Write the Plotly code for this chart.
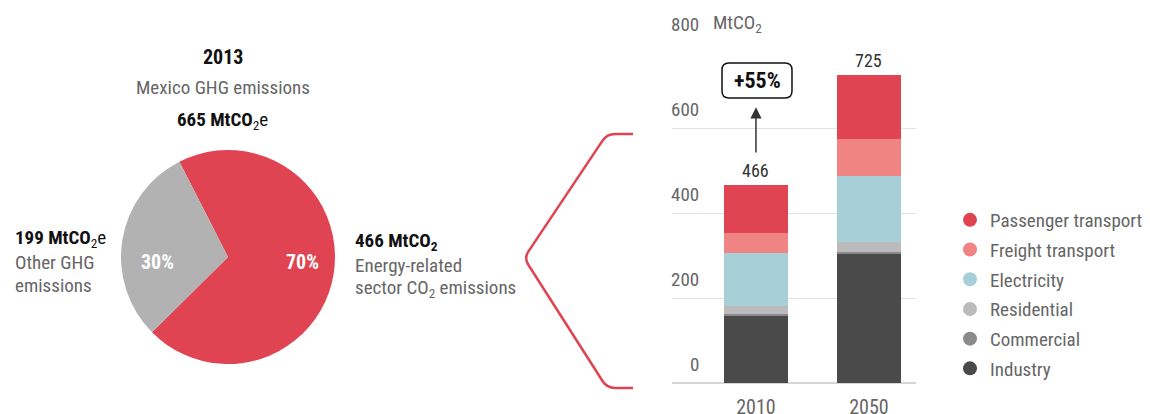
import plotly.graph_objects as go

# pie: Mexico GHG emissions 2013
pie_year = "2013"
pie_labels = ["Energy-related sector CO<sub>2</sub> emissions", "Other GHG emissions"]
pie_values = [466, 199]
pie_colors = ["#E04352", "#B2B2B2"]

# stacked bars: energy-related CO2 by sector
years = ["2010", "2050"]
sectors = ["Industry", "Commercial", "Residential", "Electricity",
           "Freight transport", "Passenger transport"]
industry = [158, 304]
commercial = [5, 4]
residential = [18, 24]
electricity = [125, 155]
freight = [47, 87]
passenger = [113, 151]
sector_colors = ["#4A4A4A", "#8A8A8A", "#BBBBBB", "#A7CFD8", "#F08482", "#E04352"]
y_ticks = [0, 200, 400, 600, 800]
growth_label = "+55%"

FONT = "Roboto Condensed, Liberation Sans Narrow, DejaVu Sans Condensed, sans-serif"
OFF = 8  # page body margin
W, H = 1150 - OFF, 414 - OFF


def px(x):
    return (x - OFF) / W


def py(y):
    return 1 - (y - OFF) / H


def rounded_path(pts, r=8):
    """Polyline in window pixels with softened corners, returned in paper coords."""
    def p(pt):
        return f"{px(pt[0]):.5f},{py(pt[1]):.5f}"

    def toward(s, e, dist):
        dx, dy = e[0] - s[0], e[1] - s[1]
        ln = (dx * dx + dy * dy) ** 0.5
        return (s[0] + dx / ln * dist, s[1] + dy / ln * dist)

    d = "M " + p(pts[0])
    for i in range(1, len(pts) - 1):
        a, b, c = pts[i - 1], pts[i], pts[i + 1]
        d += " L " + p(toward(b, a, r)) + " Q " + p(b) + " " + p(toward(b, c, r))
    d += " L " + p(pts[-1])
    return d


series = [industry, commercial, residential, electricity, freight, passenger]
totals = [sum(v) for v in zip(*series)]
total_pie = sum(pie_values)

fig = go.Figure()

fig.add_trace(go.Pie(
    labels=pie_labels,
    values=pie_values,
    marker=dict(colors=pie_colors, line=dict(width=0)),
    sort=False,
    direction="clockwise",
    rotation=-27,
    textinfo="none",
    domain=dict(x=[px(121), px(335)], y=[py(364), py(150)]),
    showlegend=False,
    hoverinfo="label+value",
))

for name, vals, color in zip(sectors, series, sector_colors):
    fig.add_trace(go.Bar(
        x=years, y=vals, name=name, marker=dict(color=color, line=dict(width=0)),
        width=0.566, showlegend=False,
    ))

# legend entries with round markers, top item first
for name, color in zip(reversed(sectors), reversed(sector_colors)):
    fig.add_trace(go.Scatter(
        x=[None], y=[None], mode="markers", name=name,
        marker=dict(color=color, size=14, symbol="circle"),
        legendgroup=name,
    ))

ann = []


def text(x, y, s, size=19, color="#666666", xanchor="center"):
    ann.append(dict(x=px(x), y=py(y), xref="paper", yref="paper", text=s, showarrow=False,
                    xanchor=xanchor, yanchor="middle",
                    font=dict(family=FONT, size=size, color=color)))


text(223, 57, f"<b>{pie_year}</b>", size=20, color="#111111")
text(223, 88, "Mexico GHG emissions")
text(222, 120, f"<b>{total_pie} MtCO</b><sub>2</sub>e", color="#111111")

text(13, 238, f"<b>{pie_values[1]} MtCO</b><sub>2</sub>e", color="#111111", xanchor="left")
text(13, 263, "Other GHG", xanchor="left")
text(13, 285, "emissions", xanchor="left")

text(353, 241, f"<b>{pie_values[0]} MtCO<sub>2</sub></b>", color="#111111", xanchor="left")
text(353, 265, "Energy-related", xanchor="left")
text(353, 288, "sector CO<sub>2</sub> emissions", xanchor="left")

# slice percentages
pcts = [f"<b>{round(100 * v / total_pie)}%</b>" for v in pie_values]
text(302, 262, pcts[0], size=20, color="white")
text(157, 262, pcts[1], size=20, color="white")

# y tick labels sit above their gridlines
for v in y_ticks:
    ann.append(dict(x=px(701), y=v, xref="paper", yref="y", text=str(v), showarrow=False,
                    xanchor="right", yanchor="bottom", yshift=5,
                    font=dict(family=FONT, size=19, color="#666666")))
ann.append(dict(x=px(711), y=y_ticks[-1], xref="paper", yref="y", text="MtCO<sub>2</sub>",
                showarrow=False, xanchor="left", yanchor="bottom", yshift=5,
                font=dict(family=FONT, size=19, color="#666666")))

# bar totals
for i, t in enumerate(totals):
    ann.append(dict(x=i, y=t, xref="x", yref="y", text=str(t), showarrow=False,
                    xanchor="center", yanchor="bottom", yshift=2,
                    font=dict(family=FONT, size=18, color="#333333")))

# growth arrow and label
ann.append(dict(x=0, y=649, xref="x", yref="y", ax=0, ay=539, axref="pixel", ayref="y",
                text="", showarrow=True,
                arrowhead=2, arrowsize=1.5, arrowwidth=1.5, arrowcolor="#333333"))
text(757, 80, f"<b>{growth_label}</b>", size=22, color="#111111")

shapes = [
    dict(type="path", xref="paper", yref="paper",
         path=rounded_path([(633, 134), (607, 134), (524, 258), (607, 388), (633, 388)]),
         line=dict(color="#E04352", width=2.5)),
    dict(type="path", xref="paper", yref="paper",
         path=rounded_path([(757, 63), (792, 63), (792, 98), (722, 98), (722, 63), (757, 63)], r=7),
         line=dict(color="#111111", width=1.5)),
]

fig.update_layout(
    width=W, height=H,
    margin=dict(l=0, r=0, t=0, b=0, autoexpand=False),
    paper_bgcolor="white",
    plot_bgcolor="white",
    barmode="stack",
    bargap=0,
    font=dict(family=FONT, size=19, color="#666666"),
    xaxis=dict(domain=[px(672), px(916)], range=[-0.743, 1.416], type="category",
               categoryarray=years, showgrid=False, showline=False, zeroline=False,
               ticks="", ticklabelstandoff=10, automargin=False,
               tickfont=dict(family=FONT, size=20, color="#666666")),
    yaxis=dict(domain=[py(383), py(43)], range=[0, 800], tickvals=y_ticks,
               showticklabels=False, showgrid=True, gridcolor="#E2E2E2", gridwidth=1,
               zeroline=True, zerolinecolor="#D6D6D6", zerolinewidth=2, showline=False,
               automargin=False),
    legend=dict(x=px(950), y=py(201), xanchor="left", yanchor="top",
                font=dict(family=FONT, size=19, color="#666666"),
                traceorder="grouped", tracegroupgap=2, itemwidth=30,
                bgcolor="rgba(0,0,0,0)"),
    annotations=ann,
    shapes=shapes,
)

fig.write_html("out.html")
